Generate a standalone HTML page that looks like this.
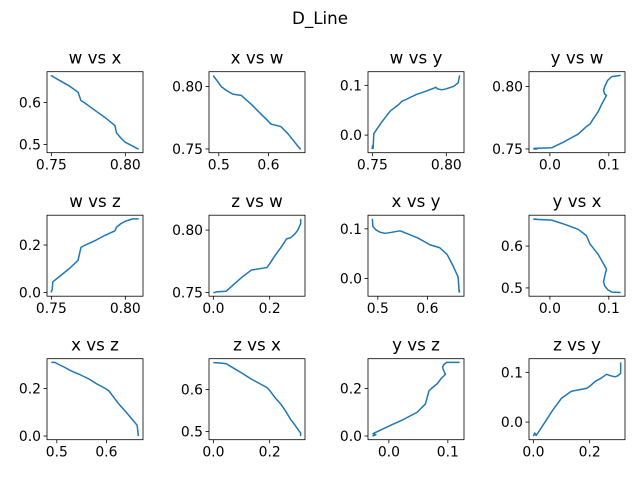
<!DOCTYPE html>
<html><head><meta charset="utf-8"><style>
body{margin:0;background:#fff;}
svg{display:block;font-family:"DejaVu Sans","Liberation Sans",sans-serif;}
</style></head><body>
<svg id="fig" width="640" height="480" viewBox="0 0 640 480">
<rect width="640" height="480" fill="#fff"/>
<text x="320" y="24" text-anchor="middle" font-size="16.7" fill="#000">D_Line</text>
</svg>
<script>
const wVals=[0.750,0.750,0.7505,0.751,0.756,0.762,0.768,0.770,0.773,0.780,0.786,0.793,0.794,0.797,0.800,0.805,0.808,0.809];
const xVals=[0.665,0.664,0.664,0.662,0.652,0.640,0.625,0.605,0.598,0.580,0.565,0.545,0.528,0.515,0.505,0.496,0.490,0.489];
const yVals=[-0.028,-0.022,-0.027,0.003,0.025,0.048,0.062,0.068,0.072,0.082,0.088,0.096,0.093,0.091,0.093,0.098,0.105,0.120];
const zVals=[0.000,0.005,0.010,0.045,0.070,0.100,0.135,0.190,0.200,0.220,0.240,0.260,0.275,0.290,0.300,0.310,0.310,0.310];
const wTicks=[0.75,0.80], wLabels=["0.75","0.80"];
const xTicks=[0.5,0.6], xLabels=["0.5","0.6"];
const yTicks=[0.0,0.1], yLabels=["0.0","0.1"];
const zTicks=[0.0,0.2], zLabels=["0.0","0.2"];
const pairs=[["w","x"],["x","w"],["w","y"],["y","w"],["w","z"],["z","w"],["x","y"],["y","x"],["x","z"],["z","x"],["y","z"],["z","y"]];

const V={w:wVals,x:xVals,y:yVals,z:zVals};
const T={w:[wTicks,wLabels],x:[xTicks,xLabels],y:[yTicks,yLabels],z:[zTicks,zLabels]};
const NS="http://www.w3.org/2000/svg";
const svg=document.getElementById('fig');
const colL=[47,209,368,529], W=96, rowT=[71.7,215.2,358.7], H=81;
function mk(tag,attrs,parent){const e=document.createElementNS(NS,tag);for(const k in attrs)e.setAttribute(k,attrs[k]);(parent||svg).appendChild(e);return e;}
function lim(a){const mn=Math.min(...a),mx=Math.max(...a),r=mx-mn;return[mn-0.05*r,mx+0.05*r];}
pairs.forEach((p,i)=>{
  const L=colL[i%4],Tp=rowT[Math.floor(i/4)];
  const g=mk('g',{});
  
  
  const xs=V[p[0]],ys=V[p[1]];
  const [x0,x1]=lim(xs),[y0,y1]=lim(ys);
  const sx=v=>L+(v-x0)/(x1-x0)*W, sy=v=>Tp+H-(v-y0)/(y1-y0)*H;
  const t=mk('text',{x:L+W/2,y:Tp-8,'text-anchor':'middle','font-size':'16.7',fill:'#000'},g);
  t.textContent=p[0]+' vs '+p[1];
  
  
  const [xt,xl]=T[p[0]],[yt,yl]=T[p[1]];
  xt.forEach((v,k)=>{const X=sx(v);mk('line',{x1:X,x2:X,y1:Tp+H,y2:Tp+H+3.5,stroke:'#000','stroke-width':0.8},g);
    const tx=mk('text',{x:X,y:Tp+H+17,'text-anchor':'middle','font-size':'13.9',fill:'#000'},g);tx.textContent=xl[k];
    
    });
  yt.forEach((v,k)=>{const Y=sy(v);mk('line',{x1:L,x2:L-3.5,y1:Y,y2:Y,stroke:'#000','stroke-width':0.8},g);
    const tx=mk('text',{x:L-6,y:Y+5,'text-anchor':'end','font-size':'13.9',fill:'#000'},g);tx.textContent=yl[k];
    
    });
  const pl=mk('polyline',{points:xs.map((v,k)=>sx(v).toFixed(2)+','+sy(ys[k]).toFixed(2)).join(' '),fill:'none',stroke:'#1f77b4','stroke-width':1.5,'stroke-linejoin':'round'},g);
  
  
  mk('rect',{x:L,y:Tp,width:W,height:H,fill:'none',stroke:'#000','stroke-width':0.8},g);
});
</script>
</body></html>
